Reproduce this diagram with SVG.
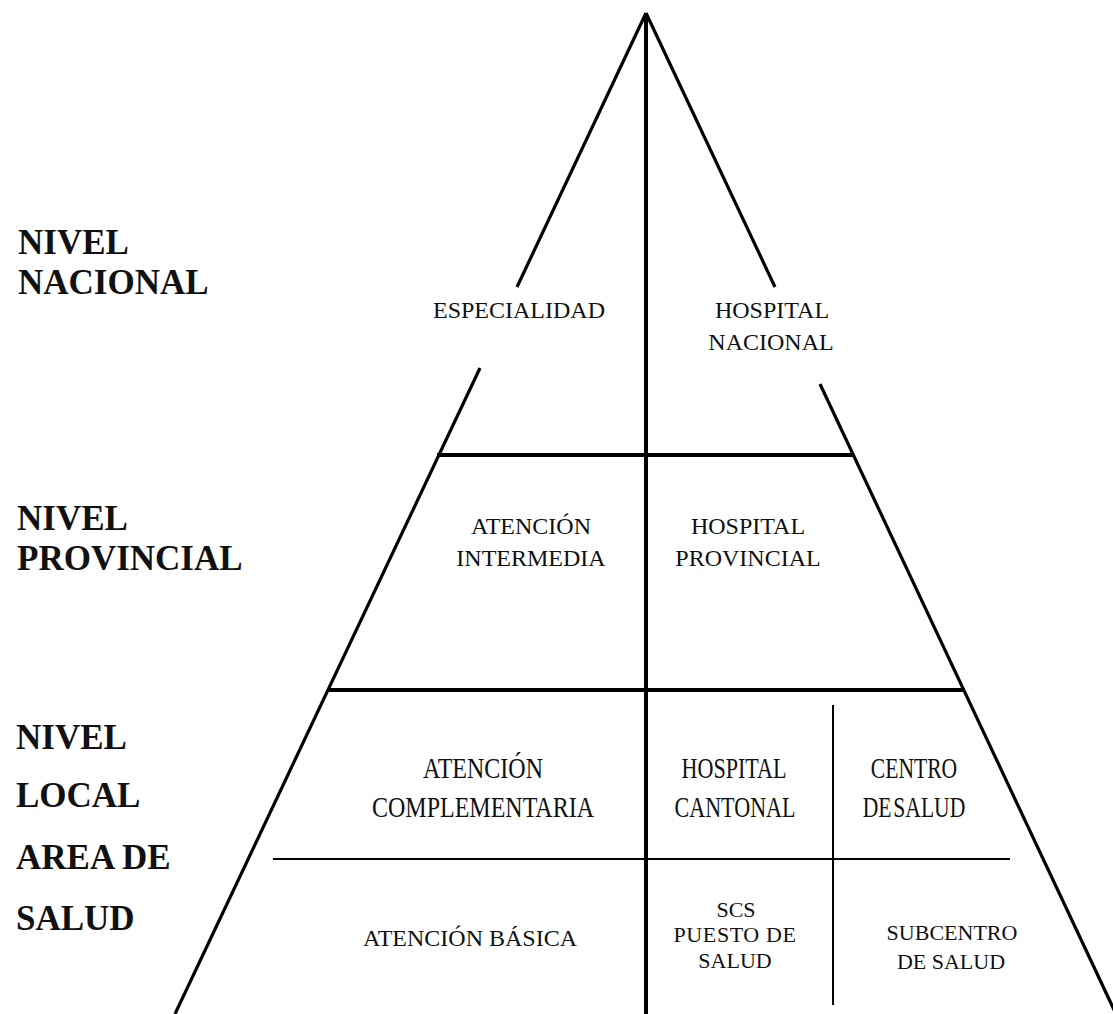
<svg xmlns="http://www.w3.org/2000/svg" width="1113" height="1014" viewBox="0 0 1113 1014">
  <style>
    .edge { stroke: #000; stroke-width: 3.2; fill: none; stroke-linecap: butt; }
    .thick { stroke: #000; stroke-width: 4; fill: none; }
    .thin { stroke: #000; stroke-width: 2; fill: none; }
    .cell { font-family: "Liberation Serif", "Times New Roman", serif; font-size: 24px; fill: #111; text-anchor: middle; }
    .cell-sm { font-family: "Liberation Serif", "Times New Roman", serif; font-size: 22px; fill: #111; text-anchor: middle; }
    .level { font-family: "Liberation Serif", "Times New Roman", serif; font-size: 35px; font-weight: bold; fill: #111; }
  </style>
  <rect width="1113" height="1014" fill="#fff"/>

  <!-- pyramid outline and dividers -->
  <g id="connectors">
    <!-- left side, broken where the top label sits -->
    <line class="edge" x1="646" y1="13" x2="517" y2="287"/>
    <line class="edge" x1="480" y1="368" x2="175" y2="1014"/>
    <!-- right side, broken where the top label sits -->
    <line class="edge" x1="646" y1="13" x2="775" y2="287"/>
    <line class="edge" x1="820" y1="384" x2="1116" y2="1014"/>
    <!-- central axis -->
    <line class="thick" x1="646" y1="13" x2="646" y2="1014"/>
    <!-- level boundaries -->
    <line class="thick" x1="437" y1="455" x2="853" y2="455"/>
    <line class="thick" x1="329" y1="690" x2="965" y2="690"/>
    <!-- local level subdivisions -->
    <line class="thin" x1="273" y1="859" x2="1010" y2="859"/>
    <line class="thin" x1="833" y1="705" x2="833" y2="1005"/>
  </g>

  <!-- level labels -->
  <g id="nivel-nacional">
    <text class="level" x="18" y="254">NIVEL</text>
    <text class="level" x="18" y="294">NACIONAL</text>
  </g>
  <g id="nivel-provincial">
    <text class="level" x="17" y="530">NIVEL</text>
    <text class="level" x="17" y="570">PROVINCIAL</text>
  </g>
  <g id="nivel-local">
    <text class="level" x="16" y="749">NIVEL</text>
    <text class="level" x="16" y="807">LOCAL</text>
    <text class="level" x="16" y="869">AREA DE</text>
    <text class="level" x="16" y="930">SALUD</text>
  </g>

  <!-- national level -->
  <g id="especialidad">
    <text class="cell" x="519" y="318">ESPECIALIDAD</text>
  </g>
  <g id="hospital-nacional">
    <text class="cell" x="772" y="318">HOSPITAL</text>
    <text class="cell" x="771" y="350">NACIONAL</text>
  </g>

  <!-- provincial level -->
  <g id="atencion-intermedia">
    <text class="cell" x="531" y="534">ATENCIÓN</text>
    <text class="cell" x="531" y="566">INTERMEDIA</text>
  </g>
  <g id="hospital-provincial">
    <text class="cell" x="748" y="534">HOSPITAL</text>
    <text class="cell" x="748" y="566">PROVINCIAL</text>
  </g>

  <!-- local level, upper row (tall, narrow lettering) -->
  <g id="atencion-complementaria">
    <text class="cell" font-size="24" transform="translate(483,778) scale(1,1.22)">ATENCIÓN</text>
    <text class="cell" font-size="24" transform="translate(483,817) scale(1,1.22)">COMPLEMENTARIA</text>
  </g>
  <g id="hospital-cantonal">
    <text class="cell" font-size="22" transform="translate(734,778) scale(0.92,1.22)">HOSPITAL</text>
    <text class="cell" font-size="22" transform="translate(735,817) scale(0.92,1.22)">CANTONAL</text>
  </g>
  <g id="centro-de-salud">
    <text class="cell" font-size="22" transform="translate(914,778) scale(0.9,1.22)">CENTRO</text>
    <text class="cell" font-size="22" word-spacing="-4" transform="translate(914,817) scale(0.9,1.22)">DE SALUD</text>
  </g>

  <!-- local level, lower row -->
  <g id="atencion-basica">
    <text class="cell" font-size="24.8" x="470" y="946">ATENCIÓN BÁSICA</text>
  </g>
  <g id="puesto-de-salud">
    <text class="cell-sm" x="736" y="917">SCS</text>
    <text class="cell-sm" x="735" y="942" letter-spacing="0.6">PUESTO DE</text>
    <text class="cell-sm" x="735" y="968">SALUD</text>
  </g>
  <g id="subcentro-de-salud">
    <text class="cell-sm" x="952" y="940">SUBCENTRO</text>
    <text class="cell-sm" x="951" y="969">DE SALUD</text>
  </g>
</svg>
